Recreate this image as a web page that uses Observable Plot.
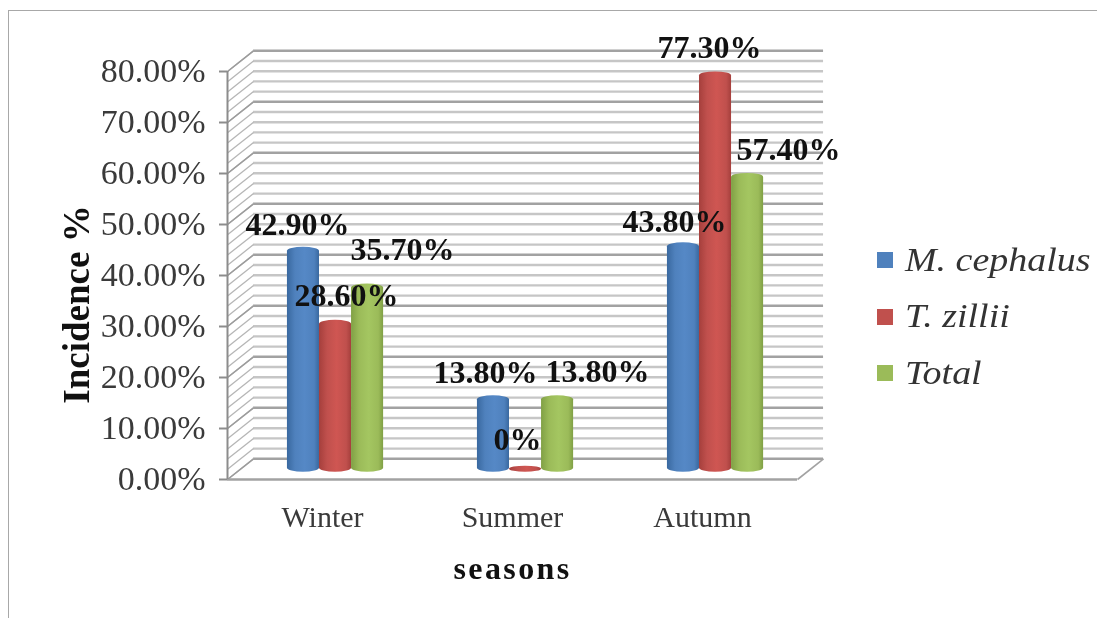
<!DOCTYPE html>
<html><head><meta charset="utf-8">
<script src="https://cdn.jsdelivr.net/npm/d3@7"></script>
<script src="https://cdn.jsdelivr.net/npm/@observablehq/plot@0.6"></script>
<style>
html,body{margin:0;background:#fff;}
#page{position:relative;width:1097px;height:618px;overflow:hidden;font-family:"Liberation Serif",serif;}
#frame{position:absolute;left:8px;top:10px;width:1200px;height:700px;border:1.5px solid #a8a8a8;box-sizing:border-box;}
#chart{position:absolute;left:0;top:0;filter:blur(0.7px);}
#legend{position:absolute;left:877px;top:232px;filter:blur(0.6px);}
.row{display:flex;align-items:center;height:56.5px;font-style:italic;font-size:33px;color:#333;white-space:nowrap;}
.row span{display:inline-block;transform:scaleX(1.15);transform-origin:left center;}
.sw{width:16px;height:16px;margin-right:12px;}
</style></head><body>
<div id="page"><div id="frame"></div><div id="chart"></div><div id="legend"></div></div>
<script>
const seasons = ["Winter","Summer","Autumn"];
const seriesNames = ["M. cephalus","T. zillii","Total"];
const cephalus = [42.9,13.8,43.8];
const zillii = [28.6,0,77.3];
const total = [35.7,13.8,57.4];
const seriesValues = [cephalus,zillii,total];
const seriesColors = ["#4f81bd","#c0504d","#9bbb59"];
const darkColors = ["#39689f","#a53f3c","#80a045"];
const lightColors = ["#5588c6","#cf5652","#a4c661"];
const yTicks = [0,10,20,30,40,50,60,70,80];
const minorTicks = d3.range(0,81,2);

const pxX = 189.67, pxY = 5.1;
const depthX = 26/pxX, depthY = 20.7/pxY, barW = 32/pxX;
const rows = seasons.flatMap((s,i)=>seriesValues.map((vals,j)=>({
  season:s,i,j,value:vals[i],
  x1:i+0.5+(j-1.5)*barW+depthX/2, x2:i+0.5+(j-0.5)*barW+depthX/2,
  base:depthY/2, top:vals[i]+depthY/2
})));
// label nudges from the bar centre top, in pixels
const nudges = [[-6,-26],[11,-28],[35,-37],[-8,-26],[-8,-29],[40,-27],[-9,-24],[-6,-27],[41,-27]];
const fmt = v => v===0 ? "0%" : v.toFixed(2)+"%";

const defs = () => {
  const d = d3.create("svg:defs");
  seriesColors.forEach((c,j)=>{
    const g = d.append("linearGradient").attr("id","cyl"+j);
    [[0,darkColors[j]],[0.25,seriesColors[j]],[0.55,lightColors[j]],[0.85,seriesColors[j]],[1,darkColors[j]]]
      .forEach(([o,col])=>g.append("stop").attr("offset",o).attr("stop-color",col));
  });
  return d.node();
};

const serif = "Liberation Serif";
const plot = Plot.plot({
  width:1097,height:618,
  marginLeft:227,marginRight:300,marginTop:71,marginBottom:139,
  style:{fontFamily:serif,background:"transparent",overflow:"visible"},
  x:{type:"linear",domain:[0,3],axis:null},
  y:{type:"linear",domain:[0,80],axis:null},
  marks:[
    defs,
    Plot.ruleY(minorTicks.filter(d=>d%10),{y:d=>d+depthY,x1:depthX,x2:3+depthX,stroke:"#c6c6c6",strokeWidth:2.4}),
    Plot.ruleY(yTicks,{y:d=>d+depthY,x1:depthX,x2:3+depthX,stroke:"#a2a2a2",strokeWidth:2.4}),
    Plot.link(minorTicks,{x1:0,x2:depthX,y1:d=>d,y2:d=>d+depthY,stroke:"#b6b6b6",strokeWidth:1.3}),
    Plot.link(yTicks,{x1:0,x2:depthX,y1:d=>d,y2:d=>d+depthY,stroke:"#9c9c9c",strokeWidth:1.5}),
    Plot.link([0],{x1:3,x2:3+depthX,y1:0,y2:depthY,stroke:"#a2a2a2",strokeWidth:1.6}),
    Plot.ruleY([0],{x1:0,x2:3,stroke:"#a2a2a2",strokeWidth:2.4}),
    Plot.ruleX([0],{y1:0,y2:80,stroke:"#8c8c8c",strokeWidth:2}),
    Plot.ruleY(yTicks,{y:d=>d,x1:-8/pxX,x2:0,stroke:"#8c8c8c",strokeWidth:2}),
    ...seriesColors.map((c,j)=>Plot.rectY(rows.filter(r=>r.j===j),{
      x1:"x1",x2:"x2",y1:"base",y2:"top",fill:`url(#cyl${j})`,
      rx:16,ry:4,insetTop:-3,insetBottom:-3
    })),
    Plot.text(yTicks,{x:0,y:d=>d,text:d=>d.toFixed(2)+"%",textAnchor:"end",dx:-22,fontSize:34,fill:"#3a3a3a"}),
    Plot.text(seasons,{x:(d,i)=>i+0.5,y:0,text:d=>d,dy:38,fontSize:30,fill:"#3a3a3a"}),
    ...rows.map((r,k)=>Plot.text([r],{
      x:d=>(d.x1+d.x2)/2,y:"top",text:d=>fmt(d.value),
      dx:nudges[k][0],dy:nudges[k][1],fontSize:32,fontWeight:"bold",fill:"#111"
    })),
    Plot.text(["Incidence %"],{frameAnchor:"left",textAnchor:"middle",text:d=>d,rotate:-90,dx:-150,dy:29,fontSize:37,fontWeight:"bold",fill:"#111"}),
    Plot.text(["seasons"],{frameAnchor:"bottom",text:d=>d,dx:0,dy:99,fontSize:32,fontWeight:"bold",fill:"#111"})
  ]
});
d3.select(plot).selectAll("text").filter(function(){return this.textContent==="seasons";}).style("letter-spacing","2.4px");
document.getElementById("chart").append(plot);

const leg = d3.select("#legend");
seriesNames.forEach((n,j)=>{
  const row = leg.append("div").attr("class","row");
  row.append("div").attr("class","sw").style("background",seriesColors[j]);
  row.append("span").text(n);
});
</script>
</body></html>
